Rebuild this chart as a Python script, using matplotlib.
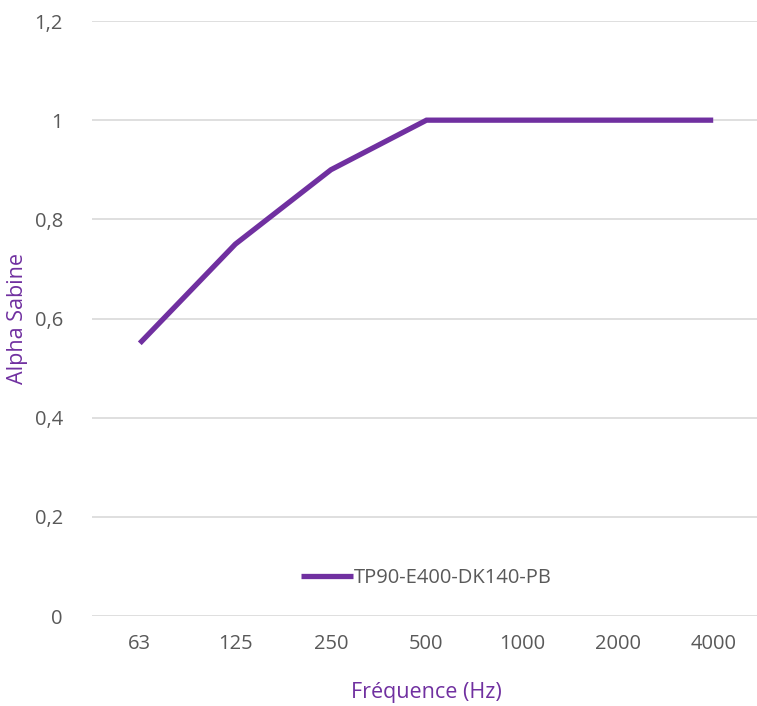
import matplotlib.pyplot as plt
from matplotlib.ticker import FuncFormatter

# data
freqs = ["63", "125", "250", "500", "1000", "2000", "4000"]
alpha = [0.55, 0.75, 0.9, 1.0, 1.0, 1.0, 1.0]
series_name = "TP90-E400-DK140-PB"

purple = "#7030A0"
grey_txt = "#595959"

plt.rcParams['font.family'] = ['Open Sans', 'DejaVu Sans']

fig = plt.figure(figsize=(7.57, 7.06), dpi=100)
ax = fig.add_axes([92 / 757, 90 / 706, 669 / 757, 595 / 706])

xs = list(range(len(freqs)))
ax.plot(xs, alpha, color=purple, linewidth=3.8, solid_capstyle='butt',
        solid_joinstyle='miter', label=series_name)

ax.set_xlim(-0.5, len(freqs) - 0.5)
ax.set_ylim(0, 1.2)
ax.set_yticks([0, 0.2, 0.4, 0.6, 0.8, 1.0, 1.2])
ax.yaxis.set_major_formatter(FuncFormatter(
    lambda v, p: ("%g" % round(v, 1)).replace(".", ",")))
ax.set_xticks(xs)
ax.set_xticklabels(freqs)

ax.grid(axis='y', color='#D9D9D9', linewidth=1.2)
ax.set_axisbelow(True)
for s in ax.spines.values():
    s.set_visible(False)
ax.tick_params(length=0, labelsize=14.5, labelcolor=grey_txt)
ax.tick_params(axis='y', pad=21)
ax.tick_params(axis='x', pad=13)

ax.set_ylabel("Alpha Sabine", color=purple, fontsize=15.5, va='center')
ax.yaxis.set_label_coords(-0.111, 0.5)
ax.set_xlabel("Fréquence (Hz)", color=purple, fontsize=15.5, va='center')
ax.xaxis.set_label_coords(0.5, -0.129)

leg = ax.legend(loc='center', bbox_to_anchor=(0.5, 0.064), frameon=False,
                fontsize=14.5, handlelength=2.6, handletextpad=0.05)
for t in leg.get_texts():
    t.set_color(grey_txt)

fig.savefig("out.png", dpi=100)
